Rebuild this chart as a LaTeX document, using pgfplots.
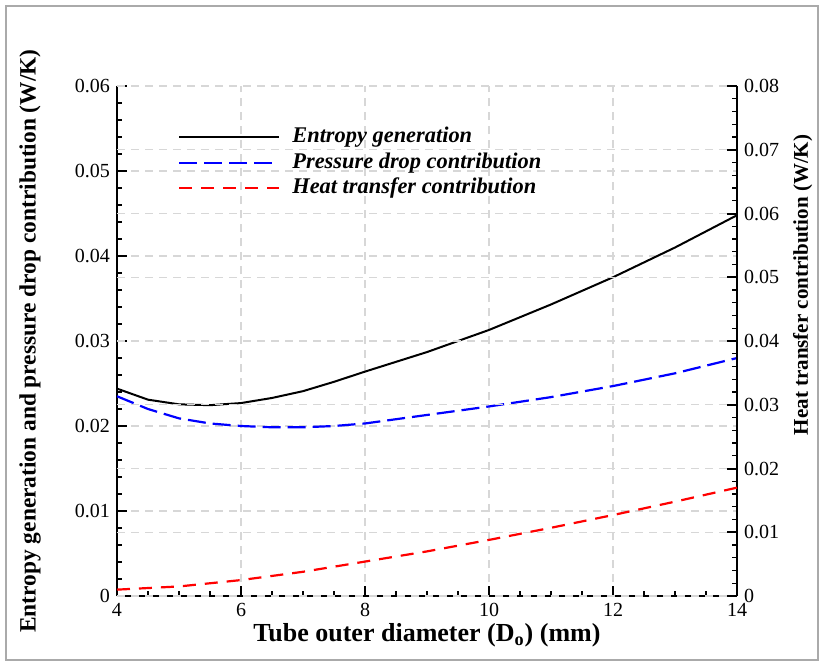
\documentclass[border=0pt]{standalone}
\usepackage{pgfplots}
\pgfplotsset{compat=1.18}
\usepackage{fontspec}
\setmainfont{Liberation Serif}
\definecolor{gridgray}{RGB}{215,215,215}
\definecolor{framegray}{RGB}{170,170,170}
\pgfplotsset{
  common/.style={
    width=310pt, height=255pt, scale only axis,
    xmin=4, xmax=14,
    /pgf/number format/assume math mode=true,
    tick label style={font=\fontsize{10}{12}\selectfont, black},
    label style={font=\fontsize{13}{15}\selectfont\bfseries},
    axis line style={line width=1pt, -},
    major tick length=5pt, minor tick length=2.5pt,
    every tick/.style={black, line width=1pt},
    minor tick style={line width=0.6pt},
    tick align=inside,
    major grid style={gridgray, line width=0.6pt, dash pattern=on 4pt off 3pt},
    scaled y ticks=false,
    yticklabel style={/pgf/number format/fixed, /pgf/number format/precision=2},
  }
}
\begin{document}
\begin{tikzpicture}
\useasboundingbox (-58.5pt,-35pt) rectangle (353pt,298pt);
\draw[framegray, line width=0.7pt] (-55.5pt,-32pt) rectangle (350.5pt,295pt);
\begin{axis}[common,
  axis x line*=bottom, axis y line*=left,
  ymin=0, ymax=0.06,
  xtick={4,6,...,14}, minor x tick num=3,
  ytick={0,0.01,...,0.06}, minor y tick num=4,
  xmajorgrids, ymajorgrids,
  xlabel={Tube outer diameter (D\textsubscript{o}) (mm)},
  xlabel style={at={(axis description cs:0.5,-0.0894)}, anchor=base},
  ylabel={Entropy generation and pressure drop contribution (W/K)},
  ylabel style={at={(axis description cs:-0.140,0.5)}, anchor=center, rotate=0,
    font=\fontsize{11.7}{14}\selectfont\bfseries},
  legend style={at={(axis description cs:0.098,0.922)}, anchor=north west, draw=none, fill=none,
    font=\fontsize{11.2}{13}\selectfont\bfseries\itshape, inner xsep=0pt, inner ysep=0pt,
    nodes={inner ysep=0.3pt, text height=8pt, text depth=2.5pt},
    row sep=1.65pt},
  legend cell align=left,
  legend image code/.code={\draw[#1] (0pt,0pt) -- (50pt,0pt); \path (54pt,0pt);},
]
\addplot[black, line width=1pt] coordinates {
(4,0.0244) (4.5,0.0231) (5,0.02255) (5.5,0.02245) (6,0.0227) (6.5,0.0233) (7,0.0241)
(7.5,0.0252) (8,0.0264) (9,0.0287) (10,0.0313) (11,0.0343) (12,0.0375) (13,0.0410) (14,0.0448)};
\addlegendentry{Entropy generation}
\addplot[blue, line width=1.1pt, dash pattern=on 9pt off 3.5pt] coordinates {
(4,0.0235) (4.5,0.0220) (5,0.0209) (5.5,0.0203) (6,0.0200) (6.5,0.01985) (7,0.01985)
(7.5,0.0200) (8,0.0203) (9,0.0213) (10,0.0223) (11,0.0234) (12,0.0247) (13,0.0262) (14,0.0280)};
\addlegendentry{Pressure drop contribution}
\addlegendimage{red, line width=1.1pt, dash pattern=on 6.5pt off 4.5pt}
\addlegendentry{Heat transfer contribution}
\end{axis}
\begin{axis}[common,
  axis x line=none, axis y line*=right,
  ymin=0, ymax=0.08,
  ytick={0,0.01,...,0.08}, minor y tick num=4,
  ymajorgrids,
  ylabel={Heat transfer contribution (W/K)},
  ylabel style={at={(axis description cs:1.106,0.61)}, anchor=center, rotate=0,
    font=\fontsize{10.5}{12}\selectfont\bfseries},
]
\addplot[red, line width=1.1pt, dash pattern=on 6.5pt off 4.5pt] coordinates {
(4,0.0010) (5,0.0015) (6,0.0025) (7,0.0038) (8,0.0054) (9,0.0070) (10,0.0088)
(11,0.0107) (12,0.0127) (13,0.0148) (14,0.0170)};
\end{axis}
\end{tikzpicture}
\end{document}
